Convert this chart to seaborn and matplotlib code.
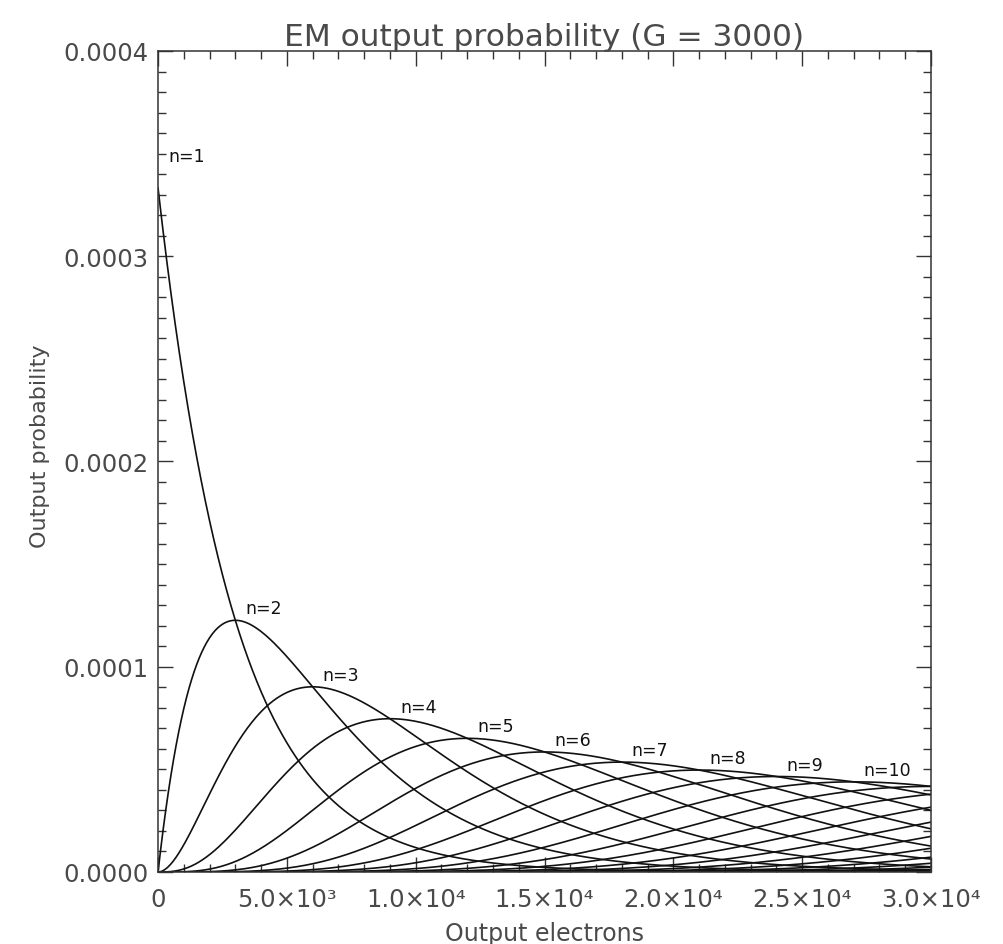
import math

import numpy as np
import pandas as pd
import matplotlib
matplotlib.use('Agg')
import matplotlib.pyplot as plt
import seaborn as sns

# EM gain register output: Erlang distribution of output electrons for n input electrons
gain = 3000
n_inputs = list(range(1, 21))
labelled_n = list(range(1, 11))
x_max = 30000
x_ticks = [0, 5000, 10000, 15000, 20000, 25000, 30000]
x_tick_labels = ['0', '5.0×10³', '1.0×10⁴', '1.5×10⁴', '2.0×10⁴', '2.5×10⁴', '3.0×10⁴']
y_ticks = [0.0, 0.0001, 0.0002, 0.0003, 0.0004]
y_tick_labels = ['0.0000', '0.0001', '0.0002', '0.0003', '0.0004']

electrons = np.linspace(0, x_max, 901)
rows = []
for n in n_inputs:
    p = electrons ** (n - 1) * np.exp(-electrons / gain) / (gain ** n * math.factorial(n - 1))
    rows.append(pd.DataFrame({'electrons': electrons, 'prob': p, 'n': n}))
df = pd.concat(rows, ignore_index=True)

sns.set_style('ticks')
plt.rcParams['font.family'] = ['DejaVu Sans']
txt = '#4a4a4a'

fig = plt.figure(figsize=(10.04, 9.45), dpi=100)
ax = fig.add_axes([0.1574, 0.0762, 0.7699, 0.8688])

sns.lineplot(data=df, x='electrons', y='prob', units='n', estimator=None,
             color='#111111', linewidth=1.2, ax=ax)

# curve labels next to each peak
for n in labelled_n:
    xp = (n - 1) * gain
    yp = xp ** (n - 1) * math.exp(-xp / gain) / (gain ** n * math.factorial(n - 1))
    if n == 1:
        yl = 0.000349
    else:
        yl = yp + 5.8e-6
    ax.text(xp + 390, yl, f'n={n}', fontsize=12.5, color='#111111', ha='left', va='center')

ax.set_xlim(0, x_max)
ax.set_ylim(0, 0.0004)
ax.set_xticks(x_ticks)
ax.set_xticklabels(x_tick_labels)
ax.set_yticks(y_ticks)
ax.set_yticklabels(y_tick_labels)
ax.xaxis.set_minor_locator(matplotlib.ticker.MultipleLocator(1000))
ax.yaxis.set_minor_locator(matplotlib.ticker.MultipleLocator(0.00001))
ax.tick_params(which='both', direction='in', top=True, right=True, colors='#333333',
               labelcolor=txt, labelsize=17.5)
ax.tick_params(which='major', length=11, width=1.0)
ax.tick_params(which='minor', length=5.5, width=1.0)
ax.tick_params(axis='x', pad=11)
ax.tick_params(axis='y', pad=7)
for s in ax.spines.values():
    s.set_linewidth(1.1)
    s.set_color('#333333')

ax.set_xlabel('Output electrons', fontsize=17, color=txt)
ax.set_ylabel('Output probability', fontsize=16, color=txt)
ax.yaxis.set_label_coords(-0.14, 0.52)
ax.xaxis.set_label_coords(0.5, -0.060)
ax.set_title('EM output probability (G = 3000)', fontsize=22.5, color=txt, pad=4)

fig.savefig('out.png', dpi=100)
